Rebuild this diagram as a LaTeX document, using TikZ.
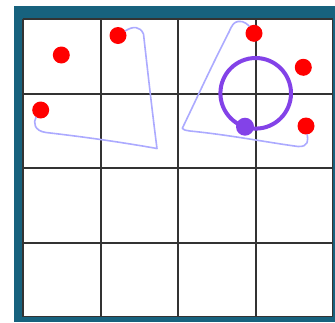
\documentclass[tikz,border=0pt]{standalone}
\usepackage{xcolor}
\usepackage{tikz}

\definecolor{frameteal}{RGB}{23,98,126}
\definecolor{traillav}{RGB}{172,170,255}
\definecolor{ringpurple}{RGB}{131,66,232}

\tikzset{
	reddot/.style={circle, fill=red, minimum size=17pt, inner sep=0pt},
	purpledot/.style={circle, fill=ringpurple, minimum size=18pt, inner sep=0pt},
	ring/.style={circle, draw=ringpurple, line width=4pt, minimum size=70.6pt, inner sep=0pt, outer sep=0pt},
	trail/.style={draw=traillav, line width=1.6pt, line cap=round, line join=round},
	gridline/.style={draw=black!80, line width=1.7pt},
}

\begin{document}
\begin{tikzpicture}[x=1pt, y=-1pt]
				\useasboundingbox (0,0) rectangle (335,322);
				% Frame and board:
				\fill[frameteal] (14,6) rectangle (335,322);
				\fill[white] (22.7,18.7) rectangle (332.5,316.5);
				\foreach \x in {22.7,100.7,178,255.7,332.5}
					\draw[gridline] (\x,18.7) -- (\x,316.5);
				\foreach \y in {18.7,93.7,168,243,316.5}
					\draw[gridline] (22.7,\y) -- (332.5,\y);
				% Dots:
				\node[reddot](D1) at (61.3, 55){};
				\node[reddot](D2) at (118, 35.5){};
				\node[reddot](D3) at (40.7, 110){};
				\node[reddot](D4) at (254, 33.3){};
				\node[reddot](D5) at (303.3, 67.3){};
				\node[reddot](D6) at (306, 126){};
				% Ring and handle:
				\node[ring](R1) at (255.7, 93.3){};
				\node[purpledot](P1) at (245, 126.7){};
				% Trails:
				\draw[trail] (D3) .. controls (33, 122) and (34, 131) .. (46, 132.5)
					.. controls (85, 137) and (120, 142) .. (157, 148.5)
					.. controls (152, 110) and (147, 65) .. (143.5, 34)
					.. controls (140, 26) and (133, 26) .. (D2);
				\draw[trail] (D4) .. controls (249, 26) and (244, 20) .. (238, 21.5)
					.. controls (234, 22) and (232, 25) .. (229, 32)
					.. controls (212, 65) and (196, 100) .. (182.3, 128.3)
					.. controls (184, 130) .. (190, 131)
					.. controls (230, 135) and (265, 142) .. (298, 146.5)
					.. controls (309, 147) and (308, 140) .. (D6);
			\end{tikzpicture}
\end{document}
